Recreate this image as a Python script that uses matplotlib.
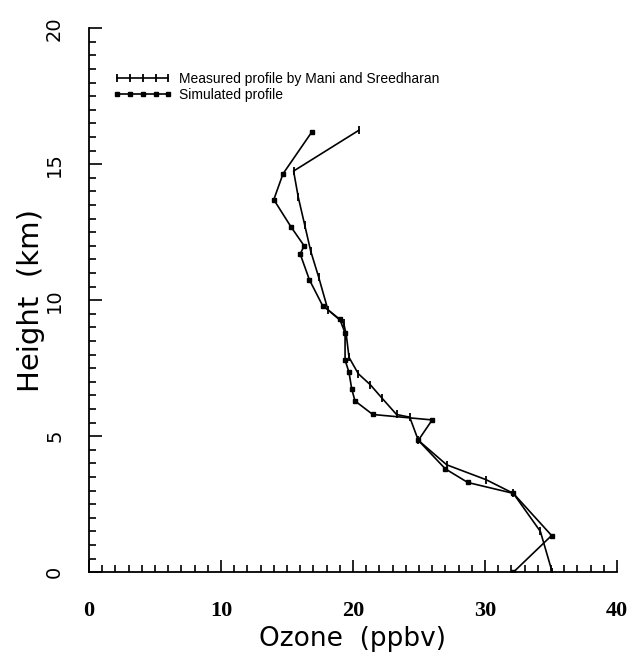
import numpy as np
import matplotlib
matplotlib.use("Agg")
import matplotlib.pyplot as plt
from matplotlib.ticker import MultipleLocator

#----------Data-------------------------------

# measured profile (Mani and Sreedharan)
meas_ozone = [20.45, 15.5, 15.85, 16.35, 16.8, 17.4, 18.1, 19.3, 19.5, 19.7, 20.4, 21.3,
              22.2, 23.3, 24.3, 24.95, 27.1, 30.1, 32.15, 34.2, 35.1]
meas_height = [16.25, 14.75, 13.8, 12.75, 11.8, 10.85, 9.65, 9.15, 8.7, 7.9, 7.3, 6.9,
               6.4, 5.8, 5.7, 4.85, 3.95, 3.4, 2.9, 1.5, 0.0]

# simulated profile
sim_ozone = [16.9, 14.7, 14.0, 15.3, 16.3, 16.0, 16.7, 17.7, 19.0, 19.4, 19.4, 19.7,
             19.9, 20.15, 21.5, 26.0, 24.95, 27.0, 28.7, 32.15, 35.05, 32.15]
sim_height = [16.2, 14.65, 13.7, 12.7, 12.0, 11.7, 10.75, 9.8, 9.3, 8.8, 7.8, 7.35,
              6.75, 6.3, 5.8, 5.6, 4.85, 3.8, 3.3, 2.9, 1.35, 0.0]

x_ticks = [0, 10, 20, 30, 40]
y_ticks = [0, 5, 10, 15, 20]

#----------Figure-----------

fig = plt.figure(figsize=(6.36, 6.57), dpi=100)
ax = fig.add_axes([0.14, 0.129, 0.83, 0.828])

ax.plot(meas_ozone, meas_height, color='black', lw=1.2, marker='|', ms=6, mew=1.3,
        label='Measured profile by Mani and Sreedharan')
ax.plot(sim_ozone, sim_height, color='black', lw=1.2, marker='s', ms=3.5,
        label='Simulated profile')

ax.set_xlim(0, 40)
ax.set_ylim(0, 20)
ax.spines['top'].set_visible(False)
ax.spines['right'].set_visible(False)
ax.spines['left'].set_linewidth(1.3)
ax.spines['bottom'].set_linewidth(1.3)

ax.xaxis.set_major_locator(MultipleLocator(10))
ax.xaxis.set_minor_locator(MultipleLocator(1))
ax.yaxis.set_major_locator(MultipleLocator(5))
ax.yaxis.set_minor_locator(MultipleLocator(0.5))
ax.tick_params(which='both', direction='in', width=1.2)
ax.tick_params(which='major', length=9)
ax.tick_params(which='minor', length=5)
ax.tick_params(axis='x', which='major', pad=21)
ax.tick_params(axis='y', which='major', pad=18)

ax.set_xticks(x_ticks)
ax.set_xticklabels([str(t) for t in x_ticks], family='Liberation Serif',
                   fontsize=16, fontweight='bold')
ax.set_yticks(y_ticks)
ax.set_yticklabels([str(t) for t in y_ticks], family='DejaVu Sans',
                   fontsize=14, rotation=90, va='center')

ax.set_xlabel('Ozone  (ppbv)', family='DejaVu Sans', fontsize=19, labelpad=3)
ax.set_ylabel('Height  (km)', family='DejaVu Sans', fontsize=21, labelpad=0)

ax.legend(loc='upper left', bbox_to_anchor=(0.045, 0.92), frameon=False,
          numpoints=5, handlelength=4.3, handletextpad=0.5, labelspacing=0.15,
          borderaxespad=0, borderpad=0,
          prop={'family': 'Liberation Sans', 'size': 10})

fig.savefig("out.png", dpi=100)
